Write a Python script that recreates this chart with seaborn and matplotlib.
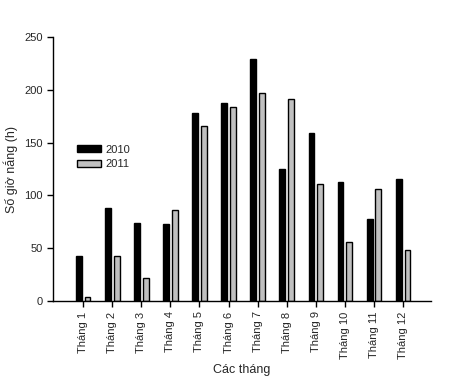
import pandas as pd
import matplotlib.pyplot as plt
import seaborn as sns

months = ['Tháng 1', 'Tháng 2', 'Tháng 3', 'Tháng 4', 'Tháng 5', 'Tháng 6',
          'Tháng 7', 'Tháng 8', 'Tháng 9', 'Tháng 10', 'Tháng 11', 'Tháng 12']
hours_2010 = [43, 88, 74, 73, 178, 188, 229, 125, 159, 113, 78, 116]
hours_2011 = [3.5, 43, 22, 86, 166, 184, 197, 191, 111, 56, 106, 48]

df = pd.DataFrame({
    'Tháng': months * 2,
    'Giờ': hours_2010 + hours_2011,
    'Năm': ['2010'] * 12 + ['2011'] * 12,
})

sns.set_style('ticks')
plt.rcParams['font.family'] = ['Liberation Sans', 'DejaVu Sans']

fig = plt.figure(figsize=(4.68, 3.82), dpi=100)
ax = fig.add_axes([0.113, 0.212, 0.808, 0.691])

sns.barplot(data=df, x='Tháng', y='Giờ', hue='Năm', ax=ax,
            palette={'2010': 'black', '2011': '#c0c0c0'},
            width=0.6, gap=0.33, edgecolor='black', linewidth=1)

ax.set_xlim(-1.04, 11.96)
ax.set_ylim(0, 250)
ax.set_yticks([0, 50, 100, 150, 200, 250])
ax.set_xlabel('Các tháng', fontsize=9)
ax.set_ylabel('Số giờ nắng (h)', fontsize=9)
ax.tick_params(axis='x', labelrotation=90, labelsize=8, length=4, width=1, color='black')
ax.tick_params(axis='y', labelsize=8, length=4, width=1, color='black')
sns.despine(ax=ax)
for s in ['left', 'bottom']:
    ax.spines[s].set_color('black')
    ax.spines[s].set_linewidth(1)

ax.legend(loc='upper left', bbox_to_anchor=(0.037, 0.63), frameon=False,
          fontsize=8, handlelength=2.2, handleheight=0.6,
          handletextpad=0.4, labelspacing=0.4, title=None)

fig.savefig('out.png', dpi=100)
